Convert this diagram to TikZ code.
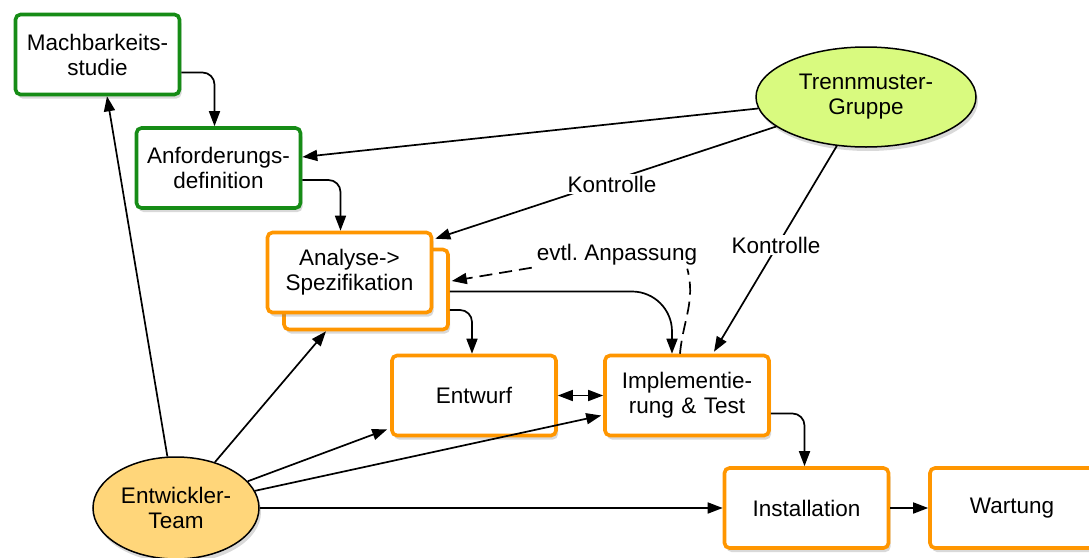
\documentclass[tikz,border=0pt]{standalone}
\usepackage{fontspec}
\setmainfont{Liberation Sans}
\usetikzlibrary{arrows.meta,shapes.geometric,shadows,calc}
\definecolor{boxgreen}{RGB}{22,140,22}
\definecolor{boxorange}{RGB}{255,150,0}
\definecolor{trennfill}{RGB}{217,250,127}
\definecolor{entfill}{RGB}{255,214,122}
\begin{document}
\begin{tikzpicture}[x=1pt,y=-1pt,
  font=\fontsize{22.5}{25}\selectfont,
  shade/.style={drop shadow={opacity=0.3,shadow xshift=2pt,shadow yshift=-4pt}},
  gbox/.style={draw=boxgreen,line width=3.6pt,rounded corners=5pt,fill=white,minimum width=164pt,minimum height=80pt,align=center,text width=155pt,shade},
  obox/.style={gbox,draw=boxorange},
  ell/.style={ellipse,draw=black,line width=1.5pt,align=center,shade},
  tip/.style={Triangle[length=15pt,width=11pt]},
  arr/.style={line width=1.7pt,-{Triangle[length=15pt,width=11pt]}},
  lbl/.style={fill=white,inner sep=2pt}
]
\useasboundingbox (0,0) rectangle (1089,557);

\node[gbox] (mach) at (97.5,54.5) {Machbarkeits-\\studie};
\node[gbox] (anf) at (218.5,168) {Anforderungs-\\definition};
\node[obox] (ana2) at (366,289.5) {};
\node[obox] (ana) at (349.5,272.5) {Analyse->\\Spezifikation};
\node[obox] (entw) at (474,395.5) {Entwurf};
\node[obox] (impl) at (687,395.5) {Implementie-\\rung \& Test};
\node[obox] (inst) at (806.5,508) {Installation};
\node[obox] (wart) at (1012,508) {Wartung};
\node[ell,fill=trennfill,minimum width=220pt,minimum height=100pt] (trenn) at (866,97) {Trennmuster-\\Gruppe};
\node[ell,fill=entfill,minimum width=166pt,minimum height=102pt] (ent) at (176,508) {Entwickler-\\Team};

% process flow
\draw[arr,rounded corners=12pt] ($(mach.east)+(0,18)$) -| ($(anf.north)+(-4,0)$);
\draw[arr,rounded corners=12pt] ($(anf.east)+(0,12)$) -| ($(ana.north)+(-9,0)$);
\draw[arr,rounded corners=12pt] ($(ana2.east)+(0,20.5)$) -| ($(entw.north)+(-2,0)$);
\draw[arr,rounded corners=40pt] ($(ana2.east)+(0,2)$) -| ($(impl.north)+(-15,0)$);
\draw[line width=1.7pt,{Triangle[length=15pt,width=11pt]}-{Triangle[length=15pt,width=11pt]}] (entw.east) -- (impl.west);
\draw[arr,rounded corners=12pt] ($(impl.east)+(0,18)$) -| ($(inst.north)+(-2,0)$);
\draw[arr] (inst.east) -- (wart.west);

% Trennmuster-Gruppe
\draw[arr] (trenn) -- ($(anf.east)+(0,-11)$);
\draw[arr] (trenn) -- ($(ana.north east)+(2,8)$);
\draw[arr] (trenn) -- ($(impl.north)+(27,-2)$);
\node[lbl] (k1) at (612,184) {Kontrolle};
\node[lbl] (k2) at (776,245) {Kontrolle};

% dashed feedback
\node[inner sep=2pt] (evtl) at (617,255) {evtl.\ Anpassung};
\draw[line width=1.7pt,dash pattern=on 13pt off 7pt] ($(impl.north)+(-7,0)$) to[out=85,in=-75] ($(evtl.south east)+(-12,1)$);
\draw[line width=1.7pt,dash pattern=on 13pt off 7pt,-{Triangle[length=15pt,width=11pt]}] ($(evtl.south west)+(-3,0)$) -- ($(ana2.east)+(2,-8.5)$);

% Entwickler-Team
\draw[arr] (ent) -- ($(mach.south)+(9.5,0)$);
\draw[arr] (ent) -- ($(ana2.south)+(-40,0)$);
\draw[arr] (ent) -- ($(entw.south west)+(-3,-8)$);
\draw[arr] (ent) -- ($(impl.west)+(-2,20)$);
\draw[arr] (ent.east) -- (inst.west);
\end{tikzpicture}
\end{document}
